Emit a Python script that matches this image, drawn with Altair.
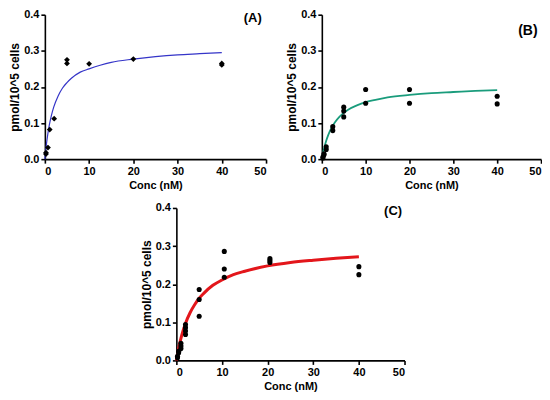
import altair as alt
import pandas as pd

FONT = "Liberation Sans"

# ---------- Panel A ----------
a_x = [0.25, 0.25, 0.7, 1.1, 2.1, 5, 5, 10, 20, 40, 40]
a_y = [0.014, 0.018, 0.032, 0.082, 0.112, 0.275, 0.265, 0.264, 0.277, 0.265, 0.261]
a_curve_x = [0, 0.25, 0.5, 1, 1.5, 2, 3, 4, 5, 6, 8, 10, 12.5, 15, 20, 25, 30, 35, 40]
a_curve_y = [0, 0.030, 0.055, 0.094, 0.122, 0.144, 0.175, 0.197, 0.212, 0.224, 0.241,
             0.250, 0.260, 0.268, 0.277, 0.284, 0.289, 0.292, 0.295]

# ---------- Panel B ----------
b_x = [0.25, 0.25, 0.5, 0.5, 1, 1, 2.5, 2.5, 5, 5, 5, 10, 10, 20, 20, 40, 40]
b_y = [0.003, 0.006, 0.012, 0.015, 0.027, 0.034, 0.079, 0.090, 0.117, 0.133, 0.144,
       0.155, 0.193, 0.155, 0.193, 0.153, 0.174]
b_curve_x = [0, 0.25, 0.5, 1, 1.5, 2, 3, 4, 5, 6, 8, 10, 12.5, 15, 20, 25, 30, 35, 40]
b_curve_y = [0, 0.016, 0.029, 0.051, 0.068, 0.082, 0.102, 0.117, 0.128, 0.137, 0.149,
             0.158, 0.165, 0.171, 0.178, 0.183, 0.186, 0.189, 0.191]

# ---------- Panel C ----------
c_x = [0.25, 0.25, 0.5, 0.5, 1, 1, 1, 2, 2, 2, 2, 5, 5, 5, 10.5, 10.5, 10.5,
       20.5, 20.5, 20.5, 40, 40]
c_y = [0.007, 0.011, 0.020, 0.024, 0.031, 0.038, 0.045, 0.068, 0.077, 0.086, 0.094,
       0.116, 0.160, 0.186, 0.218, 0.240, 0.286, 0.257, 0.262, 0.267, 0.225, 0.246]
c_curve_x = [0, 0.25, 0.5, 1, 1.5, 2, 3, 4, 5, 6, 8, 10, 12.5, 15, 20, 25, 30, 35, 40]
c_curve_y = [0, 0.017, 0.032, 0.058, 0.079, 0.097, 0.125, 0.146, 0.163, 0.176, 0.197,
             0.211, 0.225, 0.234, 0.248, 0.257, 0.263, 0.268, 0.272]

labels = ["(A)", "(B)", "(C)"]
label_x = [47, 47, 47.5]
label_y = [0.39, 0.355, 0.392]
label_size = [13, 14, 13]
curve_colors = ["#3535c8", "#1a9c7c", "#e3161b"]
curve_widths = [1.2, 1.8, 3]
point_shapes = ["diamond", "circle", "circle"]

x_ticks = [0, 10, 20, 30, 40, 50]
y_ticks = [0.0, 0.1, 0.2, 0.3, 0.4]

X_TITLE = "Conc (nM)"
Y_TITLE = "pmol/10^5 cells"


def panel(px, py, cx, cy, idx, w, h):
    pts = pd.DataFrame({"conc": px, "val": py})
    crv = pd.DataFrame({"conc": cx, "val": cy})
    lab = pd.DataFrame({"conc": [label_x[idx]], "val": [label_y[idx]], "t": [labels[idx]]})
    xenc = alt.X("conc:Q", title=X_TITLE,
                 scale=alt.Scale(domain=[0, 50], nice=False),
                 axis=alt.Axis(values=x_ticks, labelOverlap=False, tickCount=6))
    yenc = alt.Y("val:Q", title=Y_TITLE,
                 scale=alt.Scale(domain=[0, 0.4], nice=False),
                 axis=alt.Axis(values=y_ticks, format=".1f", tickCount=5,
                               labelOverlap=False))
    line = alt.Chart(crv).mark_line(
        color=curve_colors[idx], strokeWidth=curve_widths[idx], interpolate="monotone"
    ).encode(x=xenc, y=yenc)
    dots = alt.Chart(pts).mark_point(
        shape=point_shapes[idx], filled=True, color="black", opacity=1,
        size=34 if idx == 0 else 26
    ).encode(x=xenc, y=yenc)
    txt = alt.Chart(lab).mark_text(
        font=FONT, fontWeight="bold", fontSize=label_size[idx], color="black",
        align="center", baseline="middle"
    ).encode(x=xenc, y=yenc, text="t:N")
    return alt.layer(line, dots, txt).properties(width=w, height=h)


pa = panel(a_x, a_y, a_curve_x, a_curve_y, 0, 222, 145)
pb = panel(b_x, b_y, b_curve_x, b_curve_y, 1, 220, 145)
pc = panel(c_x, c_y, c_curve_x, c_curve_y, 2, 229, 153)

spacer = alt.Chart(pd.DataFrame({"v": [0]})).mark_point(opacity=0).encode(
    x=alt.X("v:Q", axis=None), y=alt.Y("v:Q", axis=None)
).properties(width=95, height=10)

top = alt.hconcat(pa, pb, spacing=18)
bottom = alt.hconcat(spacer, pc, spacing=0)

chart = alt.vconcat(top, bottom, spacing=12).properties(
    padding=0, background="white"
).configure_view(stroke=None).configure_axis(
    labelFont=FONT, labelFontWeight="bold", labelFontSize=11, labelColor="black",
    titleFont=FONT, titleFontWeight="bold", titleColor="black",
    domainColor="black", domainWidth=1.6, tickColor="black", tickWidth=1.6,
    tickSize=4, labelPadding=2, grid=False, labelOverlap=False
).configure_axisX(titleFontSize=11, titlePadding=3).configure_axisY(
    titleFontSize=12, titlePadding=2
)

chart.save("out.html", embed_options={"renderer": "svg", "actions": False})
